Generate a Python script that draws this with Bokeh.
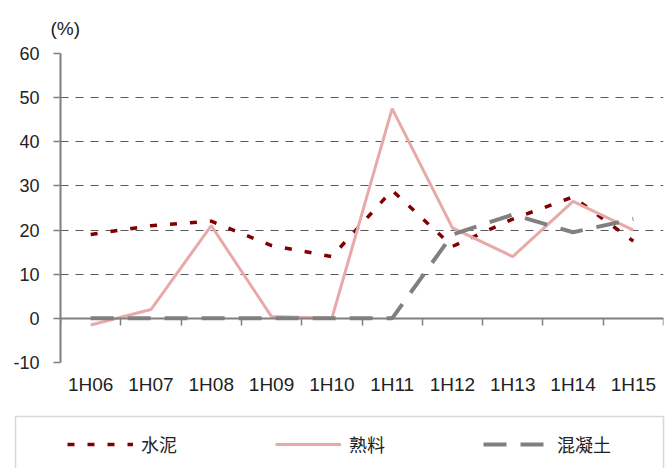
from bokeh.plotting import figure
from bokeh.models import Range1d, FixedTicker, LinearAxis, Legend, LegendItem, BoxAnnotation
from bokeh.layouts import column
from bokeh.embed import file_html
from bokeh.resources import INLINE

categories = ["1H06", "1H07", "1H08", "1H09", "1H10", "1H11", "1H12", "1H13", "1H14", "1H15"]
cement = [19, 21, 22, 16.5, 14, 29, 16.3, 22.5, 27.5, 17.5]
clinker = [-1.5, 2, 21, 0.4, 0, 47.5, 20.5, 14, 26.5, 20]
concrete = [0, 0, 0, 0, 0, 0, 19, 23.5, 19.5, 22.5]
y_ticks = [-10, 0, 10, 20, 30, 40, 50, 60]
y_tick_labels = ["-10", "0", "10", "20", "30", "40", "50", "60"]
series_names = ["水泥", "熟料", "混凝土"]
unit_label = "(%)"

xs = [i + 0.5 for i in range(len(categories))]
boundaries = list(range(len(categories) + 1))

NUM_FONT = "'Liberation Sans Narrow', 'Liberation Sans', sans-serif"
CJK_FONT = "Noto Sans CJK SC"
TXT = "#222222"
AXIS = "#7f7f7f"

styles = [dict(line_color="#800000", line_width=3.5, line_dash="7 13"),
          dict(line_color="#E8AAA8", line_width=3),
          dict(line_color="#808080", line_width=4, line_dash="23 14")]
series = [cement, clinker, concrete]

p = figure(width=665, height=410, x_range=Range1d(0, len(categories)), y_range=Range1d(-10, 60),
           output_backend="svg", toolbar_location=None,
           x_axis_location=None, y_axis_location=None,
           min_border_left=60, min_border_right=2, min_border_top=52, min_border_bottom=48)
p.outline_line_color = None
p.frame_align = False
p.title.text = unit_label
p.title.align = "left"
p.title.offset = -10
p.title.standoff = 30
p.title.text_font = NUM_FONT
p.title.text_font_size = "19px"
p.title.text_font_style = "normal"
p.title.text_color = TXT

# y axis
yax = LinearAxis(ticker=FixedTicker(ticks=y_ticks),
                 major_label_overrides={t: s for t, s in zip(y_ticks, y_tick_labels)})
yax.axis_line_color = AXIS
yax.axis_line_width = 2
yax.major_tick_line_color = AXIS
yax.major_tick_line_width = 1.5
yax.major_tick_out = 7
yax.major_tick_in = 0
yax.minor_tick_line_color = None
yax.major_label_text_font = NUM_FONT
yax.major_label_text_font_size = "18px"
yax.major_label_text_color = TXT
yax.major_label_standoff = 14
p.add_layout(yax, "left")

# x labels axis (below)
xlab = LinearAxis(ticker=FixedTicker(ticks=xs),
                  major_label_overrides={x: c for x, c in zip(xs, categories)})
xlab.axis_line_color = None
xlab.major_tick_line_color = None
xlab.major_tick_out = 0
xlab.major_tick_in = 0
xlab.minor_tick_line_color = None
xlab.major_label_text_font = NUM_FONT
xlab.major_label_text_font_size = "19px"
xlab.major_label_text_color = TXT
xlab.major_label_standoff = 11
p.add_layout(xlab, "below")

# zero axis with ticks at category boundaries
xzero = LinearAxis(ticker=FixedTicker(ticks=boundaries), fixed_location=0)
xzero.axis_line_color = AXIS
xzero.axis_line_width = 2
xzero.major_tick_line_color = AXIS
xzero.major_tick_line_width = 1.5
xzero.major_tick_out = 7
xzero.major_tick_in = 0
xzero.minor_tick_line_color = None
xzero.major_label_text_font_size = "0px"
xzero.major_label_text_alpha = 0
p.add_layout(xzero, "below")

# grid
p.ygrid.ticker = FixedTicker(ticks=y_ticks)
p.ygrid.grid_line_color = "#595959"
p.ygrid.grid_line_dash = "8 7"
p.ygrid.grid_line_width = 1
p.xgrid.grid_line_color = None

for ys, st in zip(series, styles):
    p.line(xs, ys, **st)

# legend panel: frame covers the whole strip, ranges in pixels
lg = figure(width=665, height=58, x_range=Range1d(0, 665), y_range=Range1d(0, 58),
            output_backend="svg", toolbar_location=None,
            x_axis_location=None, y_axis_location=None,
            min_border_left=0, min_border_right=0, min_border_top=0, min_border_bottom=0)
lg.frame_align = False
lg.outline_line_color = None
lg.xgrid.grid_line_color = None
lg.ygrid.grid_line_color = None
rs = [lg.line(xs, ys, visible=False, **st) for ys, st in zip(series, styles)]

lg.add_layout(BoxAnnotation(left=15, right=663, top=52, bottom=-30,
                            fill_alpha=0, line_color=AXIS, line_width=1.5))

legend = Legend(items=[LegendItem(label=n, renderers=[r]) for n, r in zip(series_names, rs)],
                orientation="horizontal", location=(67, 11))
legend.border_line_color = None
legend.background_fill_alpha = 0
legend.padding = 0
legend.margin = 0
legend.spacing = 74
legend.glyph_width = 66
legend.glyph_height = 22
legend.label_standoff = 8
legend.label_width = 60
legend.label_height = 22
legend.label_text_font = CJK_FONT
legend.label_text_font_size = "18px"
legend.label_text_color = TXT
lg.add_layout(legend, "center")

layout = column(p, lg, spacing=0)
open("out.html", "w").write(file_html(layout, INLINE))
